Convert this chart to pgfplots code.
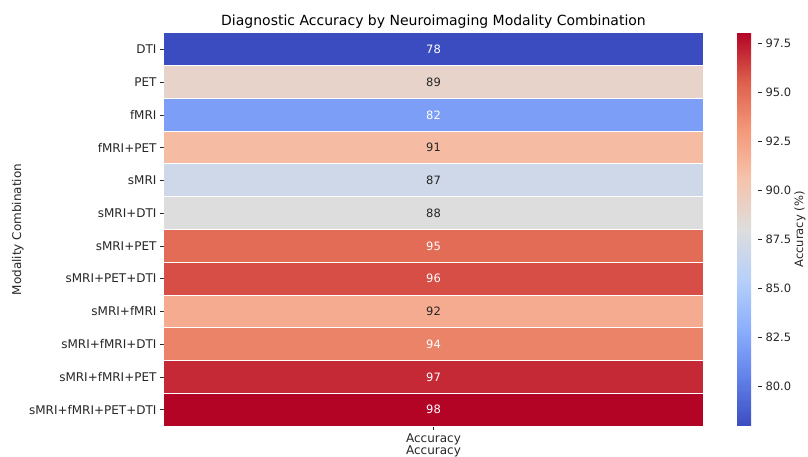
\documentclass[border=0pt]{standalone}
\usepackage{fontspec}
\setmainfont{DejaVu Sans}
\usepackage{pgfplots}
\usepgfplotslibrary{patchplots}
\pgfplotsset{compat=1.18}
\pgfplotsset{/pgf/number format/assume math mode=true}

\definecolor{txtdark}{HTML}{262626}

\begin{document}
\begin{tikzpicture}
\path[use as bounding box] (0,0) rectangle (808pt,457pt);
\begin{axis}[
  at={(164pt,31pt)}, anchor=south west,
  scale only axis, width=539pt, height=393pt,
  xmin=-0.5, xmax=0.5, ymin=-0.5, ymax=11.5,
  y dir=reverse,
  axis line style={draw=none},
  tick align=outside, major tick length=4pt,
  tick style={txtdark, line width=0.6pt},
  xtick={0}, xticklabels={Accuracy},
  ytick={0,...,11},
  yticklabels={DTI,PET,fMRI,fMRI+PET,sMRI,sMRI+DTI,sMRI+PET,sMRI+PET+DTI,sMRI+fMRI,sMRI+fMRI+DTI,sMRI+fMRI+PET,sMRI+fMRI+PET+DTI},
  xtick pos=left, ytick pos=left,
  ticklabel style={font=\fontsize{12}{14}\selectfont, text=txtdark},
  title={Diagnostic Accuracy by Neuroimaging Modality Combination},
  title style={font=\fontsize{14}{16}\selectfont, at={(axis description cs:0.5,1)}, anchor=south, yshift=-5pt},
  xlabel={Accuracy}, ylabel={Modality Combination},
  every axis x label/.style={at={(axis description cs:0.5,-0.0636)}, anchor=center,
    font=\fontsize{12}{14}\selectfont, text=txtdark},
  every axis y label/.style={at={(axis description cs:-0.271,0.5)}, rotate=90, anchor=center,
    font=\fontsize{12}{14}\selectfont, text=txtdark},
  colormap={coolwarm}{rgb255=(59,76,192) rgb255=(98,130,234) rgb255=(141,176,254) rgb255=(184,208,249) rgb255=(221,221,221) rgb255=(245,196,173) rgb255=(244,154,123) rgb255=(222,96,77) rgb255=(180,4,38)},
  point meta min=78, point meta max=98,
  colorbar,
  colorbar style={
    at={(1.0631,1)}, anchor=north west,
    width=21pt,
    axis line style={draw=none},
    ytick={80,82.5,...,97.5},
    ytick pos=right, yticklabel pos=right,
    tick align=outside, major tick length=4pt,
    tick style={txtdark, line width=0.6pt},
    yticklabel style={font=\fontsize{11.5}{13}\selectfont, text=txtdark,
      /pgf/number format/.cd, fixed, fixed zerofill, precision=1},
    ylabel={Accuracy (\%)},
    every axis y label/.style={at={(axis description cs:3.0,0.5)}, rotate=90, anchor=center,
      font=\fontsize{11.5}{13}\selectfont, text=txtdark},
  },
]
% one coloured cell (four corners) per modality combination
\addplot[patch, patch type=polygon, vertex count=4, shader=faceted, faceted color=white, line width=1pt, point meta=explicit]
coordinates {
(-0.5,-0.5) [78] (0.5,-0.5) [78] (0.5,0.5) [78] (-0.5,0.5) [78]
(-0.5,0.5) [89] (0.5,0.5) [89] (0.5,1.5) [89] (-0.5,1.5) [89]
(-0.5,1.5) [82] (0.5,1.5) [82] (0.5,2.5) [82] (-0.5,2.5) [82]
(-0.5,2.5) [91] (0.5,2.5) [91] (0.5,3.5) [91] (-0.5,3.5) [91]
(-0.5,3.5) [87] (0.5,3.5) [87] (0.5,4.5) [87] (-0.5,4.5) [87]
(-0.5,4.5) [88] (0.5,4.5) [88] (0.5,5.5) [88] (-0.5,5.5) [88]
(-0.5,5.5) [95] (0.5,5.5) [95] (0.5,6.5) [95] (-0.5,6.5) [95]
(-0.5,6.5) [96] (0.5,6.5) [96] (0.5,7.5) [96] (-0.5,7.5) [96]
(-0.5,7.5) [92] (0.5,7.5) [92] (0.5,8.5) [92] (-0.5,8.5) [92]
(-0.5,8.5) [94] (0.5,8.5) [94] (0.5,9.5) [94] (-0.5,9.5) [94]
(-0.5,9.5) [97] (0.5,9.5) [97] (0.5,10.5) [97] (-0.5,10.5) [97]
(-0.5,10.5) [98] (0.5,10.5) [98] (0.5,11.5) [98] (-0.5,11.5) [98]
};
% annotations on dark cells
\addplot[draw=none, mark=none, nodes near coords, point meta=explicit symbolic,
  nodes near coords style={anchor=center, text=white, font=\fontsize{11.5}{13}\selectfont}]
coordinates {(0,0)[78] (0,2)[82] (0,6)[95] (0,7)[96] (0,9)[94] (0,10)[97] (0,11)[98]};
% annotations on light cells
\addplot[draw=none, mark=none, nodes near coords, point meta=explicit symbolic,
  nodes near coords style={anchor=center, text=txtdark, font=\fontsize{11.5}{13}\selectfont}]
coordinates {(0,1)[89] (0,3)[91] (0,4)[87] (0,5)[88] (0,8)[92]};
\end{axis}
\end{tikzpicture}
\end{document}
